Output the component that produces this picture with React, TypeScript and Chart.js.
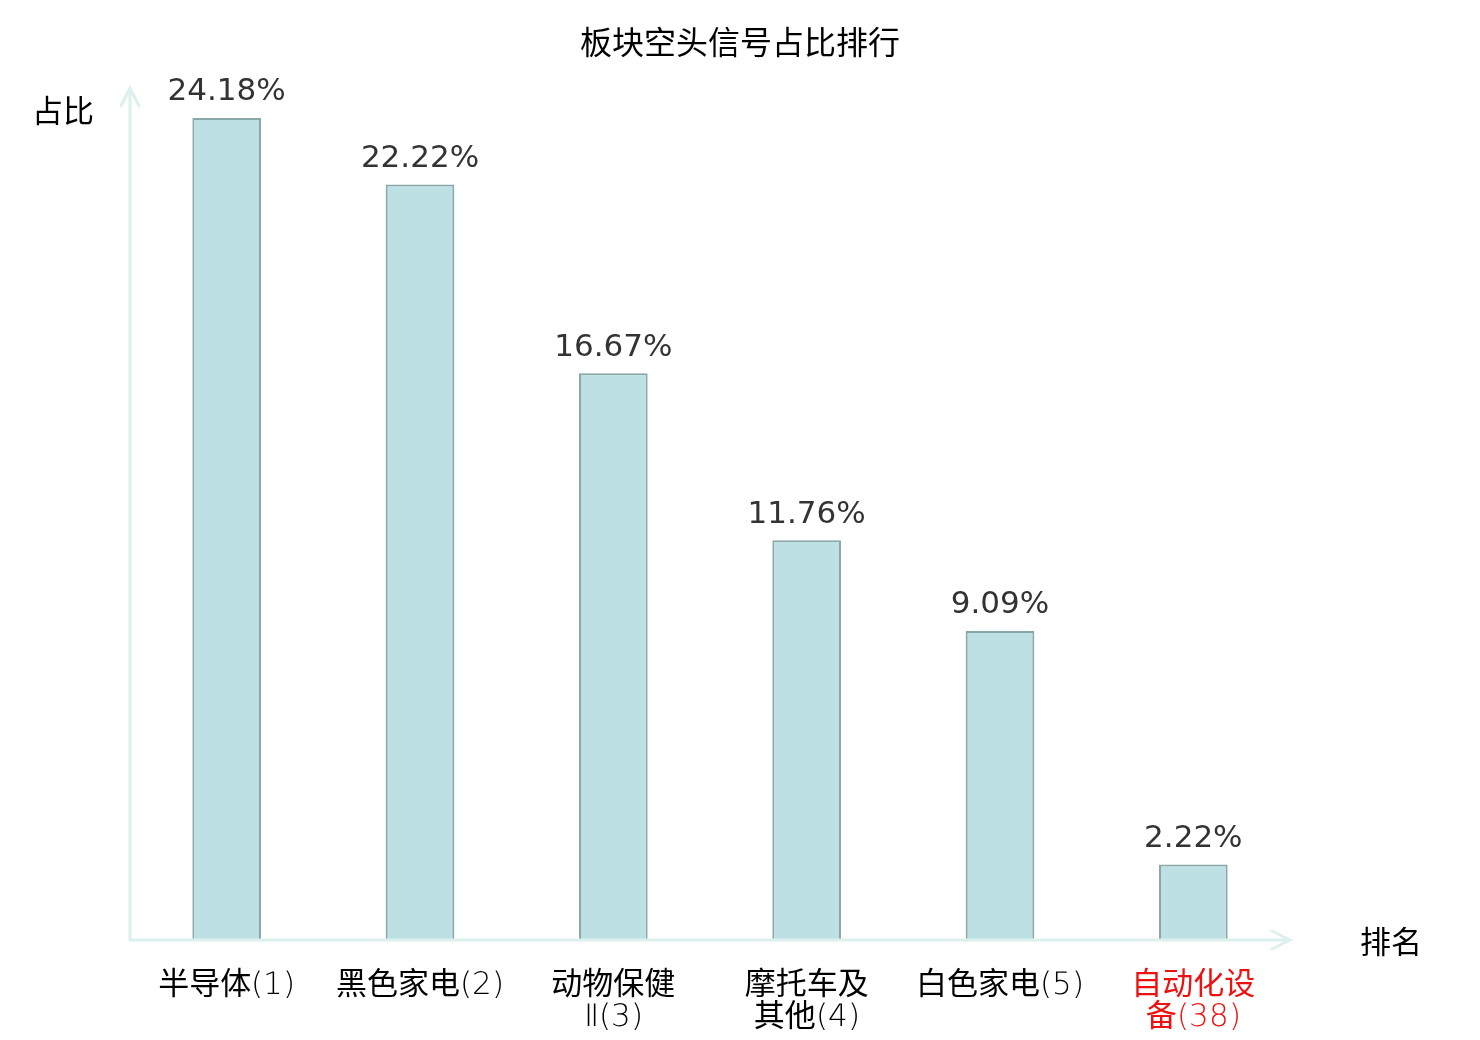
import React, { useEffect, useRef } from 'react';
import { Chart, registerables } from 'chart.js';

Chart.register(...registerables);

const chartTitle = '板块空头信号占比排行';
const yAxisName = '占比';
const xAxisName = '排名';
const categories: string[][] = [
  ['半导体(1)'],
  ['黑色家电(2)'],
  ['动物保健', 'Ⅱ(3)'],
  ['摩托车及', '其他(4)'],
  ['白色家电(5)'],
  ['自动化设', '备(38)'],
];
const shares = [24.18, 22.22, 16.67, 11.76, 9.09, 2.22];
const highlightIndex = 5;

const AXIS_COLOR = '#dcf1ee';
const CJK = '"Noto Sans CJK SC", "DejaVu Sans", sans-serif';
const TICK = 'TickLatin, "Noto Sans CJK SC", sans-serif';
const NUM = '"DejaVu Sans", "Noto Sans CJK SC", sans-serif';

// thin latin glyphs for tick labels, CJK stays regular
const FONT_CSS = `@font-face {
  font-family: TickLatin;
  src: local("DejaVu Sans ExtraLight"), local("DejaVuSans-ExtraLight");
}`;

// axes with arrows, axis names, title and value labels
const decorPlugin = {
  id: 'decor',
  afterDatasetsDraw(chart: any) {
    const { ctx, chartArea } = chart;
    const { left, right, top, bottom } = chartArea;
    ctx.save();

    ctx.strokeStyle = AXIS_COLOR;
    ctx.lineWidth = 3;
    ctx.lineCap = 'round';
    ctx.beginPath();
    ctx.moveTo(left, bottom);
    ctx.lineTo(left, top - 2);
    ctx.moveTo(left - 9, top + 16);
    ctx.lineTo(left, top - 2);
    ctx.lineTo(left + 9, top + 16);
    ctx.moveTo(left, bottom);
    ctx.lineTo(right, bottom);
    ctx.moveTo(right - 18, bottom - 9);
    ctx.lineTo(right, bottom);
    ctx.lineTo(right - 18, bottom + 9);
    ctx.stroke();

    ctx.fillStyle = '#000';
    ctx.textAlign = 'center';
    ctx.textBaseline = 'middle';
    ctx.font = `32px ${CJK}`;
    ctx.fillText(chartTitle, 740, 42);
    ctx.font = `31px ${CJK}`;
    ctx.fillText(yAxisName, left - 67, top + 20);
    ctx.fillText(xAxisName, right + 101, bottom + 1);

    const meta = chart.getDatasetMeta(0);
    ctx.fillStyle = '#333';
    ctx.font = `31px ${NUM}`;
    ctx.textBaseline = 'bottom';
    meta.data.forEach((bar: any, i: number) => {
      ctx.fillText(shares[i].toFixed(2) + '%', bar.x, bar.y - 10);
    });
    ctx.restore();
  },
};

export default function App() {
  const canvasRef = useRef<HTMLCanvasElement>(null);
  const chartRef = useRef<Chart | null>(null);

  useEffect(() => {
    document.body.style.margin = '0';
    const style = document.createElement('style');
    style.textContent = FONT_CSS;
    document.head.appendChild(style);
    let cancelled = false;

    const build = () => {
      if (cancelled || !canvasRef.current) return;
      if (chartRef.current) chartRef.current.destroy();

      chartRef.current = new Chart(canvasRef.current, {
        type: 'bar',
        data: {
          labels: categories,
          datasets: [
            {
              data: shares,
              backgroundColor: '#bce0e3',
              borderColor: '#8aa7a7',
              borderWidth: 2,
              barPercentage: 0.71,
              categoryPercentage: 0.5,
            },
          ],
        },
        options: {
          animation: false,
          responsive: false,
          devicePixelRatio: 1,
          layout: { padding: { left: 130, right: 190, top: 90, bottom: 0 } },
          plugins: {
            legend: { display: false },
            title: { display: false },
            tooltip: { enabled: false },
          },
          scales: {
            x: {
              grid: { display: false },
              border: { display: false },
              afterFit(scale: any) {
                scale.height = 100;
              },
              ticks: {
                padding: 22,
                maxRotation: 0,
                autoSkip: false,
                font: { family: TICK, size: 31, lineHeight: '32px' },
                color: (c: any) => (c.index === highlightIndex ? '#ee1111' : '#000'),
              },
            },
            y: {
              display: false,
              min: 0,
              max: 25,
            },
          },
        },
        plugins: [decorPlugin],
      });
    };

    document.fonts.load('31px TickLatin', '(1)').then(build, build);

    return () => {
      cancelled = true;
      style.remove();
      if (chartRef.current) {
        chartRef.current.destroy();
        chartRef.current = null;
      }
    };
  }, []);

  return (
    <div style={{ width: 1480, height: 1040, background: '#fff' }}>
      <canvas ref={canvasRef} width={1480} height={1040}></canvas>
    </div>
  );
}
